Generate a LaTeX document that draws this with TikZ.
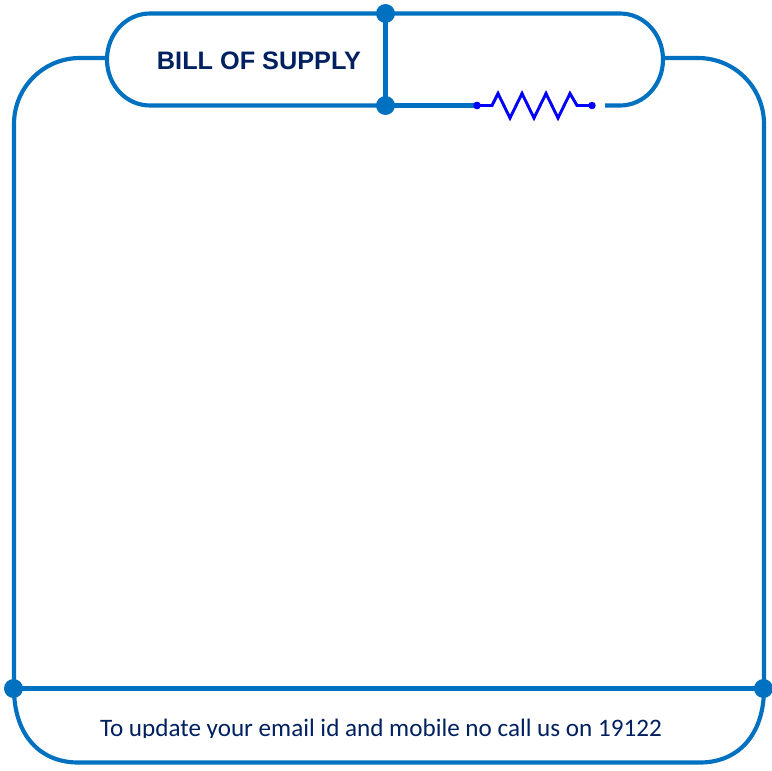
\documentclass[tikz,border=0pt]{standalone}
\usepackage{fontspec}
\setmainfont{Liberation Sans}
\newfontfamily\calib{Carlito}
\definecolor{wire}{HTML}{0070C0}
\definecolor{ink}{HTML}{002060}
\definecolor{res}{HTML}{0000FF}
\tikzset{
  wireline/.style={draw=wire,line width=3.1pt,line join=round},
  joint/.style={circle,fill=wire,draw=none,minimum size=14.25pt,inner sep=0pt},
  resline/.style={draw=res,line width=2.2pt,line join=miter},
  resdot/.style={circle,fill=res,draw=none,minimum size=5.6pt,inner sep=0pt},
}
\begin{document}
\begin{tikzpicture}[x=0.75pt,y=-0.75pt]
\useasboundingbox (0,0) rectangle (772,771);
\coordinate (tl) at (107,58);
\coordinate (tr) at (663,58);
\coordinate (gap) at (605,105.5);
\node[joint] (jt) at (385.5,13.5) {};
\node[joint] (jb) at (385.5,105.5) {};
\node[joint] (jl) at (13.5,688.5) {};
\node[joint] (jr) at (763.5,688.5) {};
\node[resdot] (ra) at (477,105.5) {};
\node[resdot] (rb) at (592,105.5) {};
% outer frame
\draw[wireline] (tl) -- (80,58) .. controls (43.5,58) and (14,87.5) .. (14,124) -- (14,688.5)
  .. controls (14,735) and (40,762.5) .. (78,762.5) -- (700,762.5) .. controls (738,762.5) and (764,735) .. (764,688.5)
  -- (764,124) .. controls (764,87.5) and (734.5,58) .. (698,58) -- (tr);
% pill
\draw[wireline] (jb.center) -- (150,105.5) .. controls (126,105.5) and (107,85) .. (107,59.5) .. controls (107,34) and (126,13.5) .. (150,13.5) -- (620,13.5)
  .. controls (644,13.5) and (663,34) .. (663,59.5) .. controls (663,85) and (644,105.5) .. (620,105.5) -- (gap);
\draw[wireline] (jt.center) -- (jb.center);
\draw[wireline] (jl.center) -- (jr.center);
\draw[wireline] (jb.center) -- (ra.center);
% resistor
\draw[resline] (ra.center) -- (492,105.5) -- (498,93.5) -- (510,118) -- (522,93.5) -- (534,118) -- (546,93.5) -- (558,118) -- (570,93.5) -- (577,105.5) -- (rb.center);
\node[resdot] at (ra) {};
% text
\node[text=ink,font=\bfseries\fontsize{18.95pt}{20pt}\selectfont,anchor=base,inner sep=0pt] (title) at (259,69.5) {BILL OF SUPPLY};
\begin{scope}
\clip (90,700) rectangle (680,737);
\node[text=ink,font=\calib\fontsize{18.85pt}{20pt}\selectfont,anchor=base,inner sep=0pt] (note) at (381,736) {To update your email id and mobile no call us on 19122};
\end{scope}
\end{tikzpicture}
\end{document}
